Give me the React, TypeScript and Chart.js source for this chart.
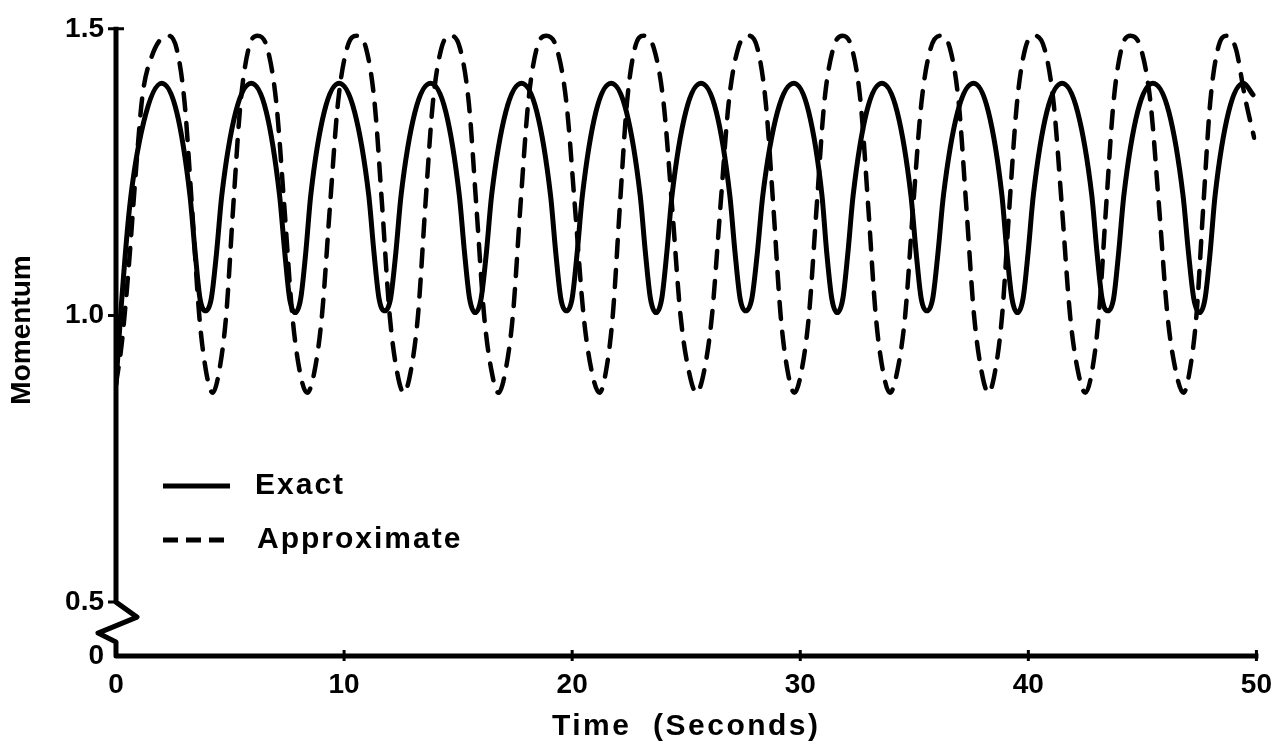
import React, { useEffect, useRef } from "react";
import { Chart, registerables } from "chart.js";

Chart.register(...registerables);

// ---- axes ----
const X_MIN = 0;
const X_MAX = 50;
const X_STEP = 10;
const Y_MAX = 1.5;
// foot of the broken momentum axis (labelled "0")
const Y_BREAK_BOTTOM = 0.406;
const Y_TICK_VALUES = [Y_BREAK_BOTTOM, 0.5, 1.0, 1.5];
const Y_TICK_LABELS = ["0", "0.5", "1.0", "1.5"];

const X_TITLE = "Time  (Seconds)";
const Y_TITLE = "Momentum";
const SERIES_NAMES = ["Exact", "Approximate"];

// ---- Exact (solid) ----
const exactTime = [
  0, 0.2, 0.6, 1.2, 2.0,
  2.66, 3.24, 3.47, 3.68, 3.93, 4.18, 4.41, 4.64, 5.25, 5.93,
  6.59, 7.17, 7.4, 7.61, 7.86, 8.1, 8.32, 8.54, 9.13, 9.78,
  10.46, 11.08, 11.31, 11.53, 11.79, 12.04, 12.27, 12.5, 13.11, 13.79,
  14.46, 15.05, 15.28, 15.5, 15.75, 16.01, 16.24, 16.47, 17.09, 17.78,
  18.45, 19.05, 19.28, 19.5, 19.75, 20.0, 20.22, 20.45, 21.04, 21.71,
  22.38, 22.98, 23.21, 23.43, 23.68, 23.93, 24.15, 24.38, 24.98, 25.65,
  26.32, 26.91, 27.14, 27.36, 27.61, 27.88, 28.12, 28.36, 29.0, 29.72,
  30.37, 30.95, 31.16, 31.38, 31.62, 31.87, 32.09, 32.32, 32.91, 33.58,
  34.25, 34.85, 35.08, 35.3, 35.55, 35.81, 36.04, 36.28, 36.9, 37.6,
  38.25, 38.84, 39.06, 39.28, 39.52, 39.77, 39.99, 40.22, 40.81, 41.48,
  42.16, 42.78, 43.01, 43.23, 43.49, 43.74, 43.96, 44.19, 44.79, 45.46,
  46.16, 46.78, 47.02, 47.25, 47.51, 47.75, 47.97, 48.19, 48.78, 49.43,
  49.85,
];
const exactMomentum = [
  0.88, 1.0, 1.19, 1.335, 1.405,
  1.355, 1.21, 1.11, 1.03, 1.008, 1.03, 1.11, 1.21, 1.355, 1.405,
  1.355, 1.21, 1.11, 1.03, 1.005, 1.03, 1.11, 1.21, 1.355, 1.405,
  1.355, 1.21, 1.11, 1.03, 1.008, 1.03, 1.11, 1.21, 1.355, 1.405,
  1.355, 1.21, 1.11, 1.03, 1.005, 1.03, 1.11, 1.21, 1.355, 1.405,
  1.355, 1.21, 1.11, 1.03, 1.008, 1.03, 1.11, 1.21, 1.355, 1.405,
  1.355, 1.21, 1.11, 1.03, 1.005, 1.03, 1.11, 1.21, 1.355, 1.405,
  1.355, 1.21, 1.11, 1.03, 1.008, 1.03, 1.11, 1.21, 1.355, 1.405,
  1.355, 1.21, 1.11, 1.03, 1.005, 1.03, 1.11, 1.21, 1.355, 1.405,
  1.355, 1.21, 1.11, 1.03, 1.008, 1.03, 1.11, 1.21, 1.355, 1.405,
  1.355, 1.21, 1.11, 1.03, 1.005, 1.03, 1.11, 1.21, 1.355, 1.405,
  1.355, 1.21, 1.11, 1.03, 1.008, 1.03, 1.11, 1.21, 1.355, 1.405,
  1.355, 1.21, 1.11, 1.03, 1.005, 1.03, 1.11, 1.21, 1.355, 1.405,
  1.385,
];

// ---- Approximate (dashed) ----
const approxTime = [
  0, 0.25, 0.55, 0.85, 1.15, 1.55, 2.26,
  2.66, 3.01, 3.33, 3.65, 3.96, 4.24, 4.51, 4.83, 5.14, 5.46, 5.81, 6.2,
  6.64, 7.03, 7.38, 7.73, 8.07, 8.38, 8.69, 9.03, 9.38, 9.73, 10.12, 10.56,
  10.97, 11.34, 11.67, 12.0, 12.33, 12.62, 12.91, 13.24, 13.56, 13.89, 14.26, 14.67,
  15.09, 15.47, 15.8, 16.14, 16.48, 16.77, 17.06, 17.4, 17.73, 18.07, 18.44, 18.86,
  19.33, 19.75, 20.12, 20.5, 20.87, 21.2, 21.47, 21.78, 22.09, 22.4, 22.74, 23.13,
  23.59, 24.01, 24.38, 24.75, 25.13, 25.45, 25.77, 26.13, 26.5, 26.86, 27.27, 27.73,
  28.13, 28.49, 28.82, 29.14, 29.46, 29.74, 30.04, 30.38, 30.72, 31.05, 31.44, 31.86,
  32.27, 32.65, 32.98, 33.31, 33.64, 33.93, 34.24, 34.6, 34.95, 35.31, 35.71, 36.15,
  36.57, 36.95, 37.28, 37.62, 37.96, 38.25, 38.53, 38.85, 39.17, 39.5, 39.86, 40.26,
  40.71, 41.11, 41.47, 41.83, 42.19, 42.5, 42.78, 43.09, 43.41, 43.73, 44.08, 44.48,
  44.94, 45.36, 45.73, 46.1, 46.48, 46.8, 47.06, 47.37, 47.67, 47.97, 48.31, 48.69,
  49.1, 49.5, 49.9,
];
const approxMomentum = [
  0.88, 0.95, 1.08, 1.24, 1.38, 1.45, 1.488,
  1.465, 1.37, 1.19, 1.0, 0.9, 0.865, 0.9, 1.0, 1.19, 1.37, 1.465, 1.488,
  1.465, 1.37, 1.19, 1.0, 0.9, 0.865, 0.9, 1.0, 1.19, 1.37, 1.465, 1.488,
  1.465, 1.37, 1.19, 1.0, 0.9, 0.865, 0.9, 1.0, 1.19, 1.37, 1.465, 1.488,
  1.465, 1.37, 1.19, 1.0, 0.9, 0.865, 0.9, 1.0, 1.19, 1.37, 1.465, 1.488,
  1.465, 1.37, 1.19, 1.0, 0.9, 0.865, 0.9, 1.0, 1.19, 1.37, 1.465, 1.488,
  1.465, 1.37, 1.19, 1.0, 0.9, 0.865, 0.9, 1.0, 1.19, 1.37, 1.465, 1.488,
  1.465, 1.37, 1.19, 1.0, 0.9, 0.865, 0.9, 1.0, 1.19, 1.37, 1.465, 1.488,
  1.465, 1.37, 1.19, 1.0, 0.9, 0.865, 0.9, 1.0, 1.19, 1.37, 1.465, 1.488,
  1.465, 1.37, 1.19, 1.0, 0.9, 0.865, 0.9, 1.0, 1.19, 1.37, 1.465, 1.488,
  1.465, 1.37, 1.19, 1.0, 0.9, 0.865, 0.9, 1.0, 1.19, 1.37, 1.465, 1.488,
  1.465, 1.37, 1.19, 1.0, 0.9, 0.865, 0.9, 1.0, 1.19, 1.37, 1.465, 1.488,
  1.465, 1.38, 1.31,
];

const FONT = "'Liberation Sans', Arial, sans-serif";
const INK = "#000";

const decorPlugin = {
  id: "decor",
  afterDatasetsDraw(chart: any) {
    const { ctx, scales } = chart;
    const xs = scales.x;
    const ys = scales.y;
    const x0 = xs.getPixelForValue(X_MIN);
    const x1 = xs.getPixelForValue(X_MAX);
    const yTop = ys.getPixelForValue(Y_MAX);
    const yHalf = ys.getPixelForValue(0.5);
    const yBot = ys.getPixelForValue(Y_BREAK_BOTTOM);
    ctx.save();
    ctx.strokeStyle = INK;
    ctx.fillStyle = INK;
    ctx.lineWidth = 5;
    ctx.lineJoin = "round";
    ctx.lineCap = "butt";
    ctx.beginPath();
    ctx.moveTo(x0, yTop - 2);
    ctx.lineTo(x0, yHalf);
    ctx.lineTo(x0 + 21, yHalf + 15);
    ctx.lineTo(x0 - 18, yHalf + 31);
    ctx.lineTo(x0, yHalf + 40);
    ctx.lineTo(x0, yBot);
    ctx.lineTo(x1 + 2, yBot);
    ctx.stroke();
    // tick marks
    ctx.lineWidth = 3;
    ctx.beginPath();
    for (let v = X_MIN + X_STEP; v <= X_MAX; v += X_STEP) {
      const px = xs.getPixelForValue(v);
      ctx.moveTo(px, yBot - 6);
      ctx.lineTo(px, yBot + 5);
    }
    [0.5, 1.0, 1.5].forEach((v) => {
      const py = ys.getPixelForValue(v);
      ctx.moveTo(x0 - 8, py);
      ctx.lineTo(x0 + (v === 1.5 ? 8 : 0), py);
    });
    ctx.stroke();

    // legend
    const lx = x0 + 47;
    const ly1 = 486;
    const ly2 = 540;
    ctx.lineWidth = 5;
    ctx.beginPath();
    ctx.moveTo(lx, ly1);
    ctx.lineTo(lx + 67, ly1);
    ctx.stroke();
    ctx.setLineDash([15, 8]);
    ctx.beginPath();
    ctx.moveTo(lx, ly2);
    ctx.lineTo(lx + 67, ly2);
    ctx.stroke();
    ctx.setLineDash([]);
    ctx.font = `bold 30px ${FONT}`;
    (ctx as any).letterSpacing = "2px";
    ctx.textAlign = "left";
    ctx.textBaseline = "middle";
    ctx.fillText(SERIES_NAMES[0], lx + 92, ly1);
    ctx.fillText(SERIES_NAMES[1], lx + 94, ly2);

    // axis titles
    ctx.font = `bold 30px ${FONT}`;
    (ctx as any).letterSpacing = "2.5px";
    ctx.textAlign = "center";
    ctx.fillText(X_TITLE, (x0 + x1) / 2, 727);
    (ctx as any).letterSpacing = "0px";
    ctx.font = `bold 28px ${FONT}`;
    ctx.save();
    ctx.translate(22, 330);
    ctx.rotate(-Math.PI / 2);
    ctx.fillText(Y_TITLE, 0, 0);
    ctx.restore();
    ctx.restore();
  },
};

export default function App() {
  const canvasRef = useRef<HTMLCanvasElement | null>(null);

  useEffect(() => {
    const canvas = canvasRef.current;
    if (!canvas) return;
    const chart = new Chart(canvas, {
      type: "line",
      data: {
        datasets: [
          {
            label: SERIES_NAMES[0],
            data: exactTime.map((t, i) => ({ x: t, y: exactMomentum[i] })),
            borderColor: INK,
            borderWidth: 5,
            pointRadius: 0,
            fill: false,
            cubicInterpolationMode: "monotone",
            borderCapStyle: "round",
            borderJoinStyle: "round",
          },
          {
            label: SERIES_NAMES[1],
            data: approxTime.map((t, i) => ({ x: t, y: approxMomentum[i] })),
            borderColor: INK,
            borderWidth: 4.5,
            borderDash: [17, 13],
            borderCapStyle: "round",
            pointRadius: 0,
            fill: false,
            cubicInterpolationMode: "monotone",
          },
        ],
      },
      options: {
        animation: false,
        responsive: false,
        maintainAspectRatio: false,
        devicePixelRatio: 1,
        events: [],
        layout: { padding: { top: 27, right: 23, left: 0, bottom: 0 } },
        plugins: {
          legend: { display: false },
          tooltip: { enabled: false },
        },
        scales: {
          x: {
            type: "linear",
            min: X_MIN,
            max: X_MAX,
            grid: { display: false, drawTicks: false },
            border: { display: false },
            ticks: {
              stepSize: X_STEP,
              autoSkip: false,
              maxRotation: 0,
              padding: 12,
              color: INK,
              font: { family: FONT, weight: "bold", size: 28 },
            },
            afterFit: (s: any) => {
              s.height = 98;
            },
          },
          y: {
            type: "linear",
            min: Y_BREAK_BOTTOM,
            max: Y_MAX,
            grid: { display: false, drawTicks: false },
            border: { display: false },
            afterBuildTicks: (s: any) => {
              s.ticks = Y_TICK_VALUES.map((v) => ({ value: v }));
            },
            ticks: {
              padding: 12,
              color: INK,
              font: { family: FONT, weight: "bold", size: 28 },
              callback: (_v: any, i: number) => Y_TICK_LABELS[i],
            },
            afterFit: (s: any) => {
              s.width = 116;
            },
          },
        },
      },
      plugins: [decorPlugin],
    } as any);
    return () => chart.destroy();
  }, []);

  return (
    <div
      style={{
        position: "fixed",
        left: 0,
        top: 0,
        width: 1284,
        height: 754,
        background: "#fff",
      }}
    >
      <canvas ref={canvasRef} width={1284} height={754} />
    </div>
  );
}
